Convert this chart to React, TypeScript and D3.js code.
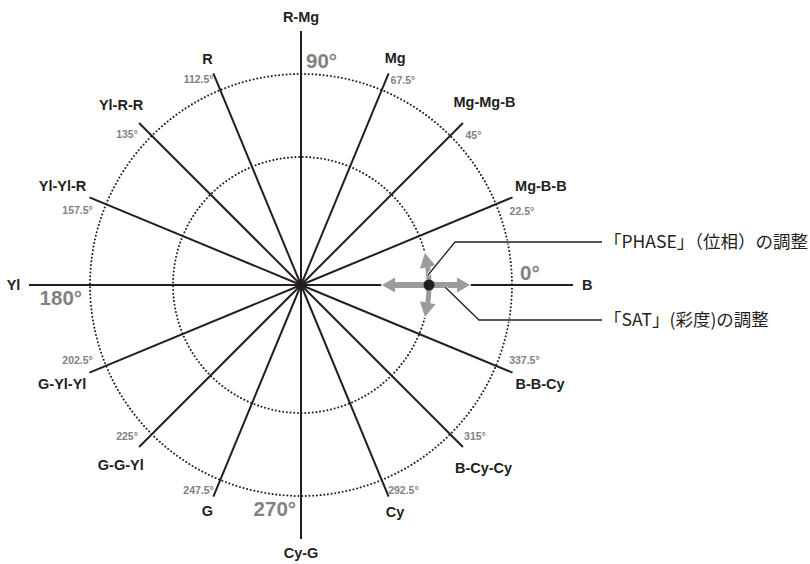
import React from 'react';
import * as d3 from 'd3';

// ---- data ----
const HUE_NAMES = ["B", "Mg-B-B", "Mg-Mg-B", "Mg", "R-Mg", "R", "Yl-R-R", "Yl-Yl-R", "Yl", "G-Yl-Yl", "G-G-Yl", "G", "Cy-G", "Cy", "B-Cy-Cy", "B-B-Cy"];
const HUE_ANGLES = [0, 22.5, 45, 67.5, 90, 112.5, 135, 157.5, 180, 202.5, 225, 247.5, 270, 292.5, 315, 337.5];
const MAJOR_ANGLES = [0, 90, 180, 270];
const MAJOR_LABELS = ["0°", "90°", "180°", "270°"];
const MINOR_ANGLES = [22.5, 45, 67.5, 112.5, 135, 157.5, 202.5, 225, 247.5, 292.5, 315, 337.5];
const MINOR_LABELS = ["22.5°", "45°", "67.5°", "112.5°", "135°", "157.5°", "202.5°", "225°", "247.5°", "292.5°", "315°", "337.5°"];
const CALLOUT_TEXTS = ["「PHASE」（位相）の調整", "「SAT」(彩度)の調整"];

// ---- layout ----
const W = 810, H = 564;
const cx = 301, cy = 285;
const R_OUT = 211, R_IN = 128;
const LEN_H = 272, LEN_V = 254, LEN_D = 229;

const HUE_FONT_SIZE = 14.5;
const HUE_FONT = `bold ${HUE_FONT_SIZE}px "Liberation Sans", Arial, sans-serif`;
const MINOR_FONT_SIZE = 10.5;
const MINOR_FONT = `bold ${MINOR_FONT_SIZE}px "Liberation Sans", Arial, sans-serif`;
const MAJOR_FONT_SIZE = 20.5;
const MAJOR_FONT = `bold ${MAJOR_FONT_SIZE}px "Liberation Sans", Arial, sans-serif`;
const GRAY = '#828282';
const INK = '#231f20';
const ARROW = '#9b9b9b';

const rad = d3.scaleLinear().domain([0, 360]).range([0, 2 * Math.PI]);
const polar = (deg: number, r: number): [number, number] => {
  const a = rad(deg);
  return [cx + r * Math.cos(a), cy - r * Math.sin(a)];
};
const lineLen = (deg: number) => (deg % 180 === 0 ? LEN_H : deg % 90 === 0 ? LEN_V : LEN_D);

let ctx: CanvasRenderingContext2D | null = null;
const textW = (t: string, font: string) => {
  if (!ctx) ctx = document.createElement('canvas').getContext('2d');
  if (!ctx) return t.length * 8;
  ctx.font = font;
  return ctx.measureText(t).width;
};

function hueLabelPos(deg: number, name: string): [number, number] {
  const a = rad(deg);
  const w = textW(name, HUE_FONT);
  const h = HUE_FONT_SIZE * 0.716;
  const s = Math.abs(Math.cos(a)) * w / 2 + Math.abs(Math.sin(a)) * h / 2;
  return polar(deg, lineLen(deg) + 10 + 0.8 * s);
}

function minorLabelPos(deg: number, label: string): [number, number] {
  const a = rad(deg);
  const w = textW(label, MINOR_FONT);
  const quadrantSign = (deg < 90 || (deg > 180 && deg < 270)) ? -1 : 1;
  const r = 220 + Math.abs(Math.cos(a)) * w / 2 + Math.abs(Math.sin(a)) * 4;
  return polar(deg + quadrantSign * 4, r);
}

function majorLabelPos(deg: number, label: string, i: number): [number, number] {
  const a = rad(deg);
  const w = textW(label, MAJOR_FONT);
  const h = MAJOR_FONT_SIZE * 0.716;
  const r = 219 + Math.abs(Math.cos(a)) * w / 2 + Math.abs(Math.sin(a)) * 5;
  const [x, y] = polar(deg, r);
  const side = i % 2 === 0 ? 1 : -1; // +1: counter-clockwise side
  const off = Math.abs(Math.cos(a)) * (h / 2 + 5) + Math.abs(Math.sin(a)) * (w / 2 + 5);
  const pa = a + side * Math.PI / 2;
  return [x + off * Math.cos(pa), y - off * Math.sin(pa)];
}

// arrow helpers
function arrowHead(tip: [number, number], dir: number, len: number, width: number) {
  const bx = tip[0] - len * Math.cos(dir), by = tip[1] - len * Math.sin(dir);
  const px = Math.cos(dir + Math.PI / 2) * width / 2, py = Math.sin(dir + Math.PI / 2) * width / 2;
  return `M${tip[0]},${tip[1]}L${bx + px},${by + py}L${bx - px},${by - py}Z`;
}

function curvedArrow(sign: number) {
  const shaftEnd = 8 * sign, tipA = 14.5 * sign;
  const arcPts = d3.range(0, 21).map(k => polar((shaftEnd * k) / 20, R_IN));
  const shaft = d3.line()(arcPts) as string;
  const base = polar(shaftEnd, R_IN);
  const tip = polar(tipA, R_IN);
  const dir = Math.atan2(tip[1] - base[1], tip[0] - base[0]);
  const len = Math.hypot(tip[0] - base[0], tip[1] - base[1]);
  return { shaft, head: arrowHead(tip, dir, len, 16) };
}

export default function App() {
  const handle = polar(0, R_IN);
  const leftTip: [number, number] = [handle[0] - 47, handle[1]];
  const rightTip: [number, number] = [handle[0] + 41, handle[1]];
  const headLen = 13;
  const up = curvedArrow(1);
  const down = curvedArrow(-1);
  const calloutX = 602;
  const calloutY = [242, 320];
  const calloutPaths = [
    `M${handle[0] - 1},${handle[1] - 10}L${handle[0] + 26},${calloutY[0]}L${calloutX},${calloutY[0]}`,
    `M${handle[0] + 16},${handle[1] + 2}L${handle[0] + 50},${calloutY[1]}L${calloutX},${calloutY[1]}`,
  ];

  const arrowShapes = (stroke: string, extra: number, fill: string) => (
    <g>
      <line x1={leftTip[0] + headLen} y1={handle[1]} x2={rightTip[0] - headLen} y2={handle[1]} stroke={stroke} strokeWidth={6 + extra} />
      <path d={arrowHead(leftTip, Math.PI, headLen, 15)} fill={fill} stroke={stroke} strokeWidth={extra} strokeLinejoin="round" />
      <path d={arrowHead(rightTip, 0, headLen, 15)} fill={fill} stroke={stroke} strokeWidth={extra} strokeLinejoin="round" />
      <path d={up.shaft} fill="none" stroke={stroke} strokeWidth={5 + extra} />
      <path d={up.head} fill={fill} stroke={stroke} strokeWidth={extra} strokeLinejoin="round" />
      <path d={down.shaft} fill="none" stroke={stroke} strokeWidth={5 + extra} />
      <path d={down.head} fill={fill} stroke={stroke} strokeWidth={extra} strokeLinejoin="round" />
    </g>
  );

  return (
    <svg width={W} height={H} viewBox={`0 0 ${W} ${H}`} style={{ position: 'absolute', left: 0, top: 0, background: '#fff' }}>
      <rect width={W} height={H} fill="#fff" />
      {[R_OUT, R_IN].map(r => (
        <circle key={r} cx={cx} cy={cy} r={r} fill="none" stroke={INK} strokeWidth={2}
          strokeDasharray="0.01 3.7" strokeLinecap="round" />
      ))}
      {HUE_ANGLES.map(deg => {
        const [x, y] = polar(deg, lineLen(deg));
        return <line key={deg} x1={cx} y1={cy} x2={x} y2={y} stroke={INK} strokeWidth={2} />;
      })}
      {HUE_ANGLES.map((deg, i) => {
        const [x, y] = hueLabelPos(deg, HUE_NAMES[i]);
        return (
          <text key={deg} x={x} y={y + HUE_FONT_SIZE * 0.716 / 2} textAnchor="middle"
            style={{ font: HUE_FONT }} fill={INK}>{HUE_NAMES[i]}</text>
        );
      })}
      {MINOR_ANGLES.map((deg, i) => {
        const [x, y] = minorLabelPos(deg, MINOR_LABELS[i]);
        return (
          <text key={deg} x={x} y={y + MINOR_FONT_SIZE * 0.716 / 2} textAnchor="middle"
            style={{ font: MINOR_FONT }} fill={GRAY}>{MINOR_LABELS[i]}</text>
        );
      })}
      {MAJOR_ANGLES.map((deg, i) => {
        const [x, y] = majorLabelPos(deg, MAJOR_LABELS[i], i);
        return (
          <text key={deg} x={x} y={y + MAJOR_FONT_SIZE * 0.716 / 2} textAnchor="middle"
            style={{ font: MAJOR_FONT }} fill={GRAY}>{MAJOR_LABELS[i]}</text>
        );
      })}
      {arrowShapes('#fff', 2, '#fff')}
      {arrowShapes(ARROW, 0, ARROW)}
      <circle cx={handle[0]} cy={handle[1]} r={5.5} fill={INK} />
      {calloutPaths.map((d, i) => (
        <g key={i}>
          <path d={d} fill="none" stroke="#fff" strokeWidth={3} />
          <path d={d} fill="none" stroke={INK} strokeWidth={1.3} />
        </g>
      ))}
      {CALLOUT_TEXTS.map((t, i) => (
        <text key={i} x={calloutX + 2} y={calloutY[i] + 6} fill={INK}
          style={{ font: '17.5px "Noto Sans CJK JP", sans-serif' }}>{t}</text>
      ))}
    </svg>
  );
}
